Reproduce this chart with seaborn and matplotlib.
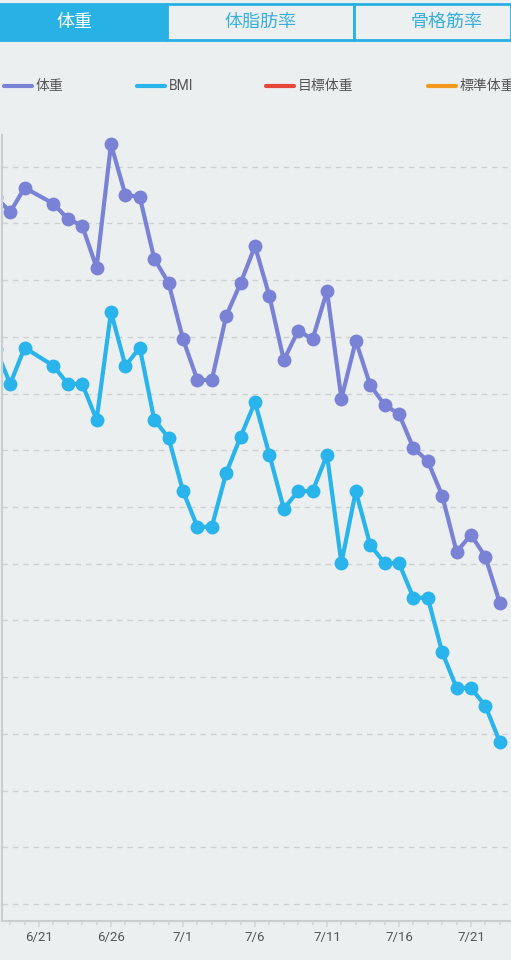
import matplotlib
matplotlib.use("Agg")
import matplotlib.pyplot as plt
import matplotlib.dates as mdates
from matplotlib.lines import Line2D
from matplotlib.patches import Rectangle
import seaborn as sns
import pandas as pd
import numpy as np

# data (chart units, one grid step = 1)
dates = ["2018-06-18", "2018-06-19", "2018-06-20", "2018-06-22", "2018-06-23",
         "2018-06-24", "2018-06-25", "2018-06-26", "2018-06-27", "2018-06-28",
         "2018-06-29", "2018-06-30", "2018-07-01", "2018-07-02", "2018-07-03",
         "2018-07-04", "2018-07-05", "2018-07-06", "2018-07-07", "2018-07-08",
         "2018-07-09", "2018-07-10", "2018-07-11", "2018-07-12", "2018-07-13",
         "2018-07-14", "2018-07-15", "2018-07-16", "2018-07-17", "2018-07-18",
         "2018-07-19", "2018-07-20", "2018-07-21", "2018-07-22", "2018-07-23"]
weight = [12.47, 12.20, 12.63, 12.35, 12.08, 11.96, 11.22, 13.40, 12.50, 12.47,
          11.38, 10.95, 9.96, 9.24, 9.24, 10.37, 10.95, 11.60, 10.72, 9.59,
          10.11, 9.96, 10.81, 8.91, 9.93, 9.15, 8.80, 8.64, 8.04, 7.81,
          7.20, 6.21, 6.51, 6.12, 5.31]
bmi = [9.79, 9.17, 9.81, 9.49, 9.17, 9.17, 8.54, 10.44, 9.49, 9.81,
       8.54, 8.22, 7.28, 6.65, 6.65, 7.60, 8.24, 8.85, 7.92, 6.97,
       7.28, 7.28, 7.92, 6.01, 7.28, 6.33, 6.01, 6.01, 5.40, 5.40,
       4.44, 3.81, 3.81, 3.49, 2.86]

tabs = ["体重", "体脂肪率", "骨格筋率"]
legend_labels = ["体重", "BMI", "目標体重", "標準体重"]
tick_dates = ["2018-06-21", "2018-06-26", "2018-07-01", "2018-07-06",
              "2018-07-11", "2018-07-16", "2018-07-21"]

BG = "#ECEFF0"
PURPLE = "#7A82D6"
BLUE = "#29B4EC"
RED = "#E8453C"
ORANGE = "#F39A1E"
TAB_BLUE = "#27B1E4"

sns.set_theme(style="white")
plt.rcParams['font.family'] = ['Roboto', 'Noto Sans CJK JP', 'DejaVu Sans']

df = pd.DataFrame({
    "date": pd.to_datetime(dates * 2),
    "value": weight + bmi,
    "series": ["体重"] * len(weight) + ["BMI"] * len(bmi),
})

fig = plt.figure(figsize=(5.11, 9.60), dpi=100, facecolor=BG)
ax = fig.add_axes([2 / 511, 39 / 960, 509 / 511, 786 / 960])
ax.set_facecolor(BG)

sns.lineplot(data=df, x="date", y="value", hue="series",
             palette={"体重": PURPLE, "BMI": BLUE}, marker="o",
             markersize=10, markeredgewidth=0, linewidth=3,
             legend=False, ax=ax, clip_on=True)

# x range: 6/21 sits at px 39, 14.4 px per day, axes from px 2 to 511
d0 = mdates.date2num(pd.Timestamp("2018-06-21"))
ax.set_xlim(d0 - 37 / 14.4, d0 + 472 / 14.4)
ax.set_ylim(-0.30, 13.56)

ax.set_xticks(pd.to_datetime(tick_dates))
ax.xaxis.set_major_formatter(plt.FuncFormatter(
    lambda v, p: f"{mdates.num2date(v).month}/{mdates.num2date(v).day}"))
ax.xaxis.set_minor_locator(mdates.DayLocator())
ax.tick_params(axis="x", which="major", length=4.5, width=1.2, color="#D3D7D9",
               labelsize=9.5, labelcolor="#555555", pad=2.5, direction="out",
               bottom=True)
ax.tick_params(axis="x", which="minor", length=3, width=1.2, color="#D3D7D9",
               bottom=True)
ax.set_yticks(np.arange(0, 14))
ax.tick_params(axis="y", left=False, labelleft=False)
ax.set_xlabel("")
ax.set_ylabel("")

ax.yaxis.grid(True, linestyle=(0, (4, 3.5)), color="#CDD1D3", linewidth=1)
ax.set_axisbelow(True)
for side in ["top", "right"]:
    ax.spines[side].set_visible(False)
for side in ["left", "bottom"]:
    ax.spines[side].set_color("#C9CED1")
    ax.spines[side].set_linewidth(1.5)

# tab bar at the top
H = 960.0
W = 511.0
tab_edges = [0, 167, 354, 511]
tab_text_x = [74, 260, 447]
for i, name in enumerate(tabs):
    x0, x1 = tab_edges[i], tab_edges[i + 1]
    face = TAB_BLUE if i == 0 else "#EDF0F1"
    fig.patches.append(Rectangle((x0 / W, 1 - 40 / H), (x1 - x0) / W, 36 / H,
                                 transform=fig.transFigure, facecolor=face,
                                 edgecolor=TAB_BLUE, linewidth=2))
    fig.text(tab_text_x[i] / W, 1 - 22 / H, name, ha="center", va="center",
             fontsize=13, color="white" if i == 0 else "#3AAFD9")

# legend row (last label runs off the right edge, as in the screenshot)
leg_x = [4, 137, 266, 428]
leg_colors = [PURPLE, BLUE, RED, ORANGE]
for x, lab, col in zip(leg_x, legend_labels, leg_colors):
    y = 1 - 86 / H
    fig.lines.append(Line2D([x / W, (x + 28) / W], [y, y], transform=fig.transFigure,
                            color=col, linewidth=3))
    fig.text((x + 32) / W, y, lab, ha="left", va="center", fontsize=10,
             color="#555555")

fig.savefig("out.png", dpi=100, facecolor=BG)
